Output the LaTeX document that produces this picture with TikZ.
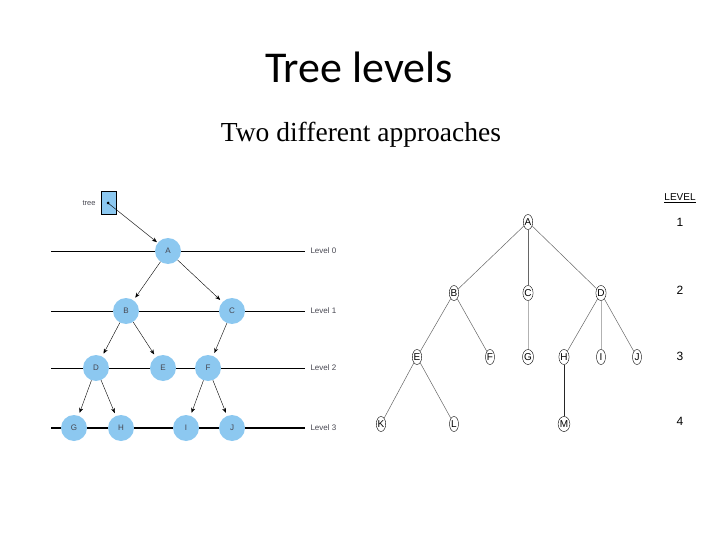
\documentclass[tikz,border=0pt]{standalone}
\usepackage{fontspec}
\setmainfont{Liberation Serif}
\setsansfont{Liberation Sans}
\newfontfamily\titlefont{Carlito}
\usetikzlibrary{arrows.meta,shapes.geometric}

\definecolor{nodeblue}{RGB}{140,200,240}
\definecolor{labelgrey}{RGB}{70,70,80}

\begin{document}
\begin{tikzpicture}[x=1pt,y=-1pt,>={Stealth[length=5pt,width=4pt]},
  bluenode/.style={circle,fill=nodeblue,minimum size=26pt,inner sep=0pt,
    font=\sffamily\fontsize{8}{9}\selectfont,text=labelgrey},
  levelline/.style={line width=0.9pt},
  levellabel/.style={anchor=west,font=\sffamily\fontsize{8}{9}\selectfont,text=labelgrey},
  ovalnode/.style={ellipse,draw,line width=0.4pt,minimum width=9pt,minimum height=15pt,
    inner sep=0pt,font=\sffamily\fontsize{10}{10}\selectfont},
  treeedge/.style={draw=black!60,line width=0.5pt},
  every node/.style={align=center}]
\useasboundingbox (0,0) rectangle (720,540);

\node (title) at (359,67) {\titlefont\fontsize{44}{48}\selectfont Tree levels};
\node (sub) at (361,135) {\fontsize{27.5}{30}\selectfont Two different approaches};

% left tree: level lines first
\draw[levelline] (51,251) -- (305,251);
\draw[levelline] (51,311) -- (305,311);
\draw[levelline] (51,368) -- (305,368);
\draw[line width=2.4pt] (51,428) -- (305,428);
\node[levellabel] (lv0) at (307,251) {Level 0};
\node[levellabel] (lv1) at (307,311) {Level 1};
\node[levellabel] (lv2) at (307,368) {Level 2};
\node[levellabel] (lv3) at (307,428) {Level 3};

\node[draw,fill=nodeblue,minimum width=15pt,minimum height=23pt,inner sep=0pt] (box) at (109,203) {};
\node[anchor=east,font=\sffamily\fontsize{7.5}{8}\selectfont,text=labelgrey] (treelbl) at (99,203) {tree};
\coordinate (ptr) at (108,203);
\fill (ptr) circle (1.5pt);

\node[bluenode] (la) at (168,251) {A};
\node[bluenode] (lb) at (126,311) {B};
\node[bluenode] (lc) at (232,311) {C};
\node[bluenode] (ld) at (96,368) {D};
\node[bluenode] (le) at (163,368) {E};
\node[bluenode] (lf) at (208,368) {F};
\node[bluenode] (lg) at (74,428) {G};
\node[bluenode] (lh) at (121,428) {H};
\node[bluenode] (li) at (186,428) {I};
\node[bluenode] (lj) at (232,428) {J};

\draw[->,shorten >=1pt] (ptr) -- (la);
\draw[->,shorten >=3pt] (la) -- (lb);
\draw[->,shorten >=3pt] (la) -- (lc);
\draw[->,shorten >=3pt] (lb) -- (ld);
\draw[->,shorten >=3pt] (lb) -- (le);
\draw[->,shorten >=3pt] (lc) -- (lf);
\draw[->,shorten >=3pt] (ld) -- (lg);
\draw[->,shorten >=3pt] (ld) -- (lh);
\draw[->,shorten >=3pt] (lf) -- (li);
\draw[->,shorten >=3pt] (lf) -- (lj);

% right tree
\node[ovalnode] (ra) at (528,222) {A};
\node[ovalnode] (rb) at (454,293) {B};
\node[ovalnode] (rc) at (528,293) {C};
\node[ovalnode] (rd) at (601,293) {D};
\node[ovalnode] (re) at (417,357) {E};
\node[ovalnode] (rf) at (490,357) {F};
\node[ovalnode] (rg) at (528,357) {G};
\node[ovalnode] (rh) at (564,357) {H};
\node[ovalnode] (ri) at (601,357) {I};
\node[ovalnode] (rj) at (637,357) {J};
\node[ovalnode] (rk) at (381,424) {K};
\node[ovalnode] (rl) at (454,424) {L};
\node[ovalnode] (rm) at (564,424) {M};

\draw[treeedge] (ra) -- (rb);
\draw[treeedge] (ra) -- (rc);
\draw[treeedge] (ra) -- (rd);
\draw[treeedge] (rb) -- (re);
\draw[treeedge] (rb) -- (rf);
\draw[treeedge,draw=black!30] (rc) -- (rg);
\draw[treeedge] (rd) -- (rh);
\draw[treeedge,draw=black!30] (rd) -- (ri);
\draw[treeedge] (rd) -- (rj);
\draw[treeedge] (re) -- (rk);
\draw[treeedge] (re) -- (rl);
\draw[treeedge,draw=black!85] (rh) -- (rm);

\node[font=\sffamily\fontsize{10}{10}\selectfont] (lvhead) at (680,198) {\underline{LEVEL}};
\node[font=\sffamily\fontsize{12}{12}\selectfont] (n1) at (680,222) {1};
\node[font=\sffamily\fontsize{12}{12}\selectfont] (n2) at (680,290) {2};
\node[font=\sffamily\fontsize{12}{12}\selectfont] (n3) at (680,356) {3};
\node[font=\sffamily\fontsize{12}{12}\selectfont] (n4) at (680,421) {4};
\end{tikzpicture}
\end{document}
